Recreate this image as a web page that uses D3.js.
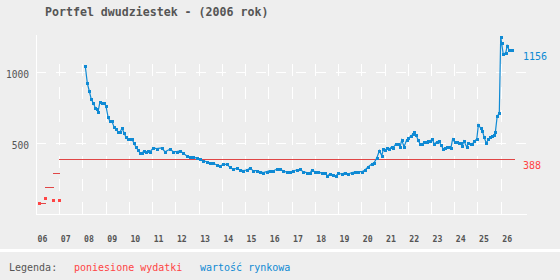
<!DOCTYPE html>
<html>
<head>
<meta charset="utf-8">
<script src="https://cdn.jsdelivr.net/npm/d3@7"></script>
<style>
  body { margin: 0; background: #eeeeee; }
  svg { display: block; font-family: "DejaVu Sans Mono", monospace; }
</style>
</head>
<body>
<div id="chart"></div>
<script>
// lata na osi X
var years = d3.range(2006, 2027);
var yTicks = [500, 1000];

// poniesione wydatki (pojedyncze zakupy)
var spentX = [2006.14, 2006.40, 2006.74, 2007.00];
var spentVal = [77, 113, 99, 99];
var spentEnd = 2026.62;

// wartość rynkowa
var valueX = [2008.12, 2008.21, 2008.29, 2008.38, 2008.47, 2008.55, 2008.64, 2008.67, 2008.75, 2008.84,
  2008.93, 2009.01, 2009.10, 2009.18, 2009.27, 2009.36, 2009.44, 2009.53, 2009.62, 2009.70,
  2009.79, 2009.87, 2009.96, 2010.05, 2010.13, 2010.22, 2010.30, 2010.39, 2010.48, 2010.56,
  2010.65, 2010.73, 2010.82, 2010.91, 2011.05, 2011.19, 2011.41, 2011.55, 2011.77, 2011.91,
  2012.06, 2012.20, 2012.34, 2012.49, 2012.63, 2012.77, 2012.92, 2013.06, 2013.20, 2013.35,
  2013.49, 2013.63, 2013.78, 2013.92, 2014.06, 2014.21, 2014.35, 2014.49, 2014.64, 2014.78,
  2014.92, 2015.07, 2015.21, 2015.35, 2015.50, 2015.64, 2015.78, 2015.93, 2016.07, 2016.21,
  2016.36, 2016.50, 2016.64, 2016.79, 2016.93, 2017.07, 2017.22, 2017.36, 2017.50, 2017.65,
  2017.79, 2017.87, 2018.01, 2018.15, 2018.30, 2018.44, 2018.54, 2018.65, 2018.80, 2018.90,
  2019.01, 2019.16, 2019.30, 2019.44, 2019.59, 2019.73, 2019.87, 2020.02, 2020.16, 2020.30,
  2020.45, 2020.55, 2020.66, 2020.78, 2020.88, 2020.95, 2021.02, 2021.12, 2021.21, 2021.31,
  2021.38, 2021.49, 2021.59, 2021.67, 2021.74, 2021.84, 2021.95, 2022.02, 2022.13, 2022.21,
  2022.28, 2022.35, 2022.45, 2022.53, 2022.63, 2022.71, 2022.82, 2022.88, 2022.96, 2023.06,
  2023.14, 2023.25, 2023.34, 2023.43, 2023.53, 2023.60, 2023.70, 2023.79, 2023.86, 2023.93,
  2024.03, 2024.13, 2024.22, 2024.28, 2024.35, 2024.42, 2024.54, 2024.61, 2024.71, 2024.78,
  2024.86, 2024.97, 2025.04, 2025.14, 2025.21, 2025.29, 2025.38, 2025.47, 2025.55, 2025.64,
  2025.71, 2025.77, 2025.85, 2025.94, 2026.00, 2026.04, 2026.11, 2026.22, 2026.28, 2026.36,
  2026.44, 2026.50];
var valueVal = [1044, 922, 870, 810, 782, 751, 739, 723, 789, 782,
  782, 763, 687, 655, 655, 613, 603, 580, 580, 606,
  575, 542, 528, 528, 528, 500, 472, 453, 430, 430,
  448, 439, 444, 441, 467, 462, 467, 441, 458, 441,
  441, 446, 430, 410, 401, 405, 394, 389, 377, 370,
  359, 359, 347, 340, 352, 352, 331, 317, 324, 312,
  307, 312, 324, 307, 307, 300, 293, 300, 307, 307,
  317, 317, 307, 296, 296, 307, 312, 317, 300, 293,
  288, 312, 300, 300, 288, 293, 270, 284, 277, 270,
  288, 284, 293, 284, 293, 298, 300, 300, 312, 335,
  354, 363, 394, 448, 413, 458, 451, 465, 460, 476,
  469, 497, 495, 474, 523, 476, 523, 535, 549, 563,
  577, 558, 523, 493, 493, 511, 507, 516, 516, 530,
  493, 511, 516, 488, 460, 465, 472, 476, 469, 530,
  507, 507, 500, 500, 483, 516, 472, 500, 495, 495,
  514, 530, 629, 606, 589, 542, 500, 528, 542, 551,
  556, 577, 692, 711, 1251, 1204, 1129, 1138, 1187, 1157,
  1157, 1156];

var RED = "#ff4444", RED_LINE = "#e04646", BLUE = "#0f8ad4", GRAY = "#555555";

var svg = d3.select("#chart").append("svg").attr("width", 560).attr("height", 280);
svg.append("rect").attr("width", 560).attr("height", 280).attr("fill", "#eeeeee");

var x = d3.scaleLinear().domain([2006, 2026]).range([36, 500.7]);
var y = d3.scaleLinear().domain([0, 1000]).range([214.3, 72.3]);

// tytuł
svg.append("text").attr("x", 45).attr("y", 16)
  .attr("font-size", "11.6px").attr("font-weight", "bold").attr("fill", GRAY)
  .text("Portfel dwudziestek - (2006 rok)");

// siatka
var grid = svg.append("g").attr("stroke", "#ffffff").attr("shape-rendering", "crispEdges");
grid.selectAll("line.h").data(yTicks).enter().append("line")
  .attr("x1", 36).attr("x2", 527)
  .attr("y1", function(d) { return Math.round(y(d)) + 0.5; })
  .attr("y2", function(d) { return Math.round(y(d)) + 0.5; })
  .attr("stroke-dasharray", "10,10");
grid.selectAll("line.v").data(years.slice(1)).enter().append("line")
  .attr("x1", function(d) { return Math.round(x(d)) + 0.5; })
  .attr("x2", function(d) { return Math.round(x(d)) + 0.5; })
  .attr("y1", 214).attr("y2", 63)
  .attr("stroke-dasharray", "12,11");
grid.append("line").attr("x1", 36.5).attr("x2", 36.5).attr("y1", 35).attr("y2", 214.5);
grid.append("line").attr("x1", 36).attr("x2", 527).attr("y1", 214.5).attr("y2", 214.5);

// osie
var xAxis = svg.append("g").attr("transform", "translate(0,242)")
  .call(d3.axisBottom(x).tickValues(years).tickSize(0).tickPadding(0)
    .tickFormat(function(d) { return String(d).slice(2); }));
xAxis.select(".domain").remove();
xAxis.selectAll("text").attr("text-anchor", "start").attr("dx", 1).attr("dy", 0)
  .attr("font-family", "DejaVu Sans Mono").attr("font-size", "8.2px")
  .attr("font-weight", "bold").attr("fill", GRAY);

var yAxis = svg.append("g").attr("transform", "translate(29,0)")
  .call(d3.axisLeft(y).tickValues(yTicks).tickSize(0).tickPadding(0).tickFormat(d3.format("d")));
yAxis.select(".domain").remove();
yAxis.selectAll("text").attr("dy", "0.35em").attr("transform", "translate(0,2)")
  .attr("font-family", "DejaVu Sans Mono").attr("font-size", "9.6px").attr("fill", GRAY);

// poniesione wydatki: narastająco jako poziome odcinki
var cum = d3.cumsum(spentVal);
var segs = spentX.map(function(d, i) {
  return { x0: d, x1: i < spentX.length - 1 ? spentX[i + 1] + 0.03 : spentEnd, v: cum[i] };
});
svg.append("g").attr("stroke", RED_LINE).attr("shape-rendering", "crispEdges")
  .selectAll("line").data(segs).enter().append("line")
  .attr("x1", function(d) { return x(d.x0); }).attr("x2", function(d) { return x(d.x1); })
  .attr("y1", function(d) { return Math.round(y(d.v)) + 0.5; })
  .attr("y2", function(d) { return Math.round(y(d.v)) + 0.5; });
svg.append("g").attr("fill", RED).selectAll("rect").data(spentX).enter().append("rect")
  .attr("x", function(d) { return Math.round(x(d)) - 1; })
  .attr("y", function(d, i) { return Math.round(y(spentVal[i])) - 1; })
  .attr("width", 3).attr("height", 3);

// wartość rynkowa
var pts = valueX.map(function(d, i) { return [d, valueVal[i]]; });
svg.append("path").datum(pts)
  .attr("fill", "none").attr("stroke", BLUE).attr("stroke-width", 1.2)
  .attr("d", d3.line().x(function(d) { return x(d[0]); }).y(function(d) { return y(d[1]); }));
svg.append("g").attr("fill", BLUE).selectAll("rect").data(pts).enter().append("rect")
  .attr("x", function(d) { return Math.round(x(d[0])) - 1; })
  .attr("y", function(d) { return Math.round(y(d[1])) - 1; })
  .attr("width", 3).attr("height", 3);

// etykiety końcowe
var lastVal = valueVal[valueVal.length - 1];
svg.append("text").attr("x", 523).attr("y", y(lastVal) + 10)
  .attr("font-size", "10px").attr("fill", BLUE).text(lastVal);
svg.append("text").attr("x", 523).attr("y", y(cum[cum.length - 1]) + 10)
  .attr("font-size", "10px").attr("fill", RED).text(cum[cum.length - 1]);

// legenda
svg.append("rect").attr("x", 0).attr("y", 249).attr("width", 560).attr("height", 3).attr("fill", "#ffffff");
var leg = svg.append("g").attr("font-size", "10px");
leg.append("text").attr("x", 9).attr("y", 271).attr("fill", GRAY).text("Legenda:");
leg.append("text").attr("x", 74).attr("y", 271).attr("fill", RED).text("poniesione wydatki");
leg.append("text").attr("x", 200).attr("y", 271).attr("fill", BLUE).text("wartość rynkowa");
</script>
</body>
</html>
